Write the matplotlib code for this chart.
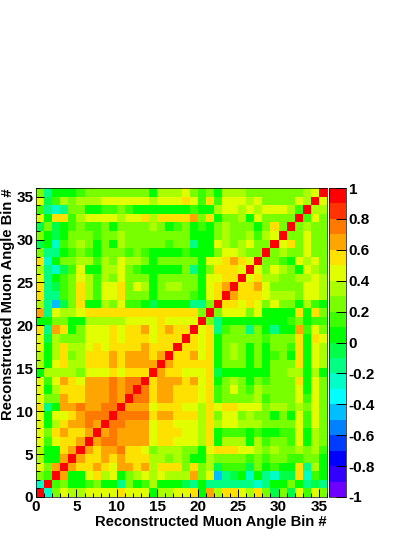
import numpy as np
import matplotlib
matplotlib.use('Agg')
import matplotlib.pyplot as plt
from matplotlib.colors import ListedColormap, BoundaryNorm
from matplotlib.ticker import MultipleLocator

plt.rcParams['font.family'] = ['Liberation Sans', 'DejaVu Sans']
plt.rcParams['font.weight'] = 'bold'
plt.rcParams['axes.unicode_minus'] = False

# correlation x100, from the diagonal to the right, bottom row first
row_01 = [95, -25, 25, 45, 35, 35, 45, 45, 45, 45, 55, 45, 45, 45, 5, 35, 35, 45, 45, 55, 5, 65, 35, 55, 55, 45, 35, 55, 25, -5, 25, -5, 45, 15, 45, 25]
row_02 = [95, 15, 25, 5, 5, 15, 25, 5, 5, -15, 25, 5, 15, 35, 5, 5, 5, -5, -15, 5, -15, -15, -15, -15, -15, -15, -25, -15, 5, 5, 25, 5, -15, -5, -15]
row_03 = [95, 65, 5, 5, 45, 55, 35, 45, 5, 25, 35, 45, 35, 45, 35, 35, 35, 65, 25, 45, -45, -15, -5, 5, -25, 5, -15, -25, -5, -5, 55, -25, 15, 5]
row_04 = [95, 65, 55, 55, 65, 55, 45, 65, 65, 55, 65, 35, 55, 55, 55, 25, 55, 25, 35, -5, 15, 15, 15, -5, 25, 5, 15, 5, 5, 55, -15, 35, 5]
row_05 = [95, 65, 55, 55, 65, 55, 65, 55, 55, 55, 35, 35, 25, 35, 25, 5, 5, 35, 25, 25, 25, 25, 15, 25, 15, 25, 25, 15, 15, 25, 25, 5]
row_06 = [95, 65, 55, 65, 65, 75, 55, 55, 45, 25, 35, 35, 35, 25, 25, 5, 45, 55, 55, 55, 45, 45, 35, 25, 35, 25, 25, 35, 25, 35, 15]
row_07 = [95, 65, 75, 75, 65, 65, 65, 65, 45, 55, 55, 45, 45, 45, 35, 55, 5, 35, 35, 35, 5, 35, 15, 25, 25, 15, 45, 5, 35, 25]
row_08 = [95, 65, 75, 65, 65, 65, 65, 45, 55, 55, 55, 45, 45, 35, 55, 5, 15, 15, 15, 5, 15, 5, 5, 15, 15, 45, 5, 35, 25]
row_09 = [95, 75, 75, 65, 65, 65, 45, 55, 55, 45, 45, 45, 35, 55, 35, 45, 45, 35, 35, 35, 25, 25, 25, 25, 45, 15, 45, 25]
row_10 = [95, 75, 75, 75, 75, 55, 65, 65, 55, 55, 55, 35, 55, 25, 45, 45, 25, 35, 25, 25, 5, 25, 5, 45, 15, 45, 25]
row_11 = [95, 65, 65, 65, 45, 55, 55, 55, 45, 45, 35, 55, 45, 55, 55, 45, 45, 45, 25, 35, 35, 25, 35, 25, 45, 25]
row_12 = [95, 75, 75, 55, 65, 65, 55, 55, 55, 45, 55, 15, 25, 25, 25, 25, 35, 15, 25, 25, 25, 45, 15, 45, 25]
row_13 = [95, 75, 55, 65, 65, 55, 55, 55, 45, 55, 15, 25, 45, 25, 15, 35, 25, 25, 25, 25, 45, 5, 45, 25]
row_14 = [95, 55, 65, 65, 65, 55, 65, 45, 55, 5, 25, 35, 25, 5, 25, 15, 25, 25, 25, 55, 5, 45, 25]
row_15 = [95, 65, 55, 55, 45, 45, 45, 55, -5, 5, 5, 5, 5, 5, 5, 25, 25, 35, 35, 5, 35, 5]
row_16 = [95, 65, 55, 55, 55, 55, 55, 5, 25, 25, 25, 5, 25, 5, 25, 25, 25, 55, 5, 45, 35]
row_17 = [95, 55, 55, 65, 45, 55, 5, 25, 35, 25, 5, 25, 5, 15, 25, 5, 55, 5, 45, 35]
row_18 = [95, 55, 55, 45, 55, 5, 25, 35, 25, 5, 25, 5, 25, 25, 15, 55, 5, 45, 35]
row_19 = [95, 55, 45, 55, 5, 25, 25, 25, 25, 25, 15, 25, 25, 25, 55, 5, 55, 45]
row_20 = [95, 45, 55, -15, 15, 25, 25, -15, 25, 5, -15, 5, 5, 65, 15, 45, 25]
row_21 = [95, 25, -15, 5, 5, 5, 5, 5, 5, 5, 5, 15, 25, 5, 15, 15]
row_22 = [95, 25, 45, 45, 45, 25, 45, 5, 5, 5, 5, 55, 5, 55, 25]
row_23 = [95, 55, 55, 45, 55, 45, 25, 45, 25, 25, 5, 35, 15, 5]
row_24 = [95, 65, 55, 55, 55, 45, 35, 35, 35, 25, 45, 45, 35]
row_25 = [95, 55, 55, 65, 45, 25, 25, 25, 25, 45, 45, 35]
row_26 = [95, 45, 55, 35, 35, 25, 25, 35, 35, 45, 35]
row_27 = [95, 45, 25, 45, 35, 25, 5, 45, 35, 25]
row_28 = [95, 25, 25, 15, 5, 45, 35, 45, 25]
row_29 = [95, 25, 35, 25, 25, 45, 25, 25]
row_30 = [95, 45, 55, 25, 45, 25, 25]
row_31 = [95, 25, 25, 45, 25, 25]
row_32 = [95, 25, 35, 25, 25]
row_33 = [95, 15, 45, 25]
row_34 = [95, 35, 35]
row_35 = [95, 45]
row_36 = [95]

rows = [row_01, row_02, row_03, row_04, row_05, row_06, row_07, row_08, row_09,
        row_10, row_11, row_12, row_13, row_14, row_15, row_16, row_17, row_18,
        row_19, row_20, row_21, row_22, row_23, row_24, row_25, row_26, row_27,
        row_28, row_29, row_30, row_31, row_32, row_33, row_34, row_35, row_36]

# root style palette, 20 contours from -1 to 1
palette = ['#6e00ff', '#3200ff', '#0000ff', '#003cff', '#0082ff', '#00beff', '#00ffff',
           '#00ffc8', '#00ff82', '#00ff46', '#00ff00', '#3cff00', '#78ff00', '#aaff00',
           '#e1ff00', '#ffe100', '#ffa500', '#ff7800', '#ff3200', '#ff0000']
levels = np.round(np.arange(-1, 1.01, 0.1), 1)
bar_ticks = np.round(np.arange(-1, 1.01, 0.2), 1) + 0.
xlabel = 'Reconstructed Muon Angle Bin #'
ylabel = 'Reconstructed Muon Angle Bin #'

# the matrix is symmetric so mirror the rows
nbins = len(rows)
corr = np.zeros((nbins, nbins))
for i, r in enumerate(rows):
    corr[i, i:] = r
    corr[i:, i] = r
corr = corr / 100.

W, H = 415., 537.
fig = plt.figure(figsize=(W/100, H/100), dpi=100)
ax = fig.add_axes([36/W, 1-497/H, (327-36)/W, (497-188)/H])
cax = fig.add_axes([329/W, 1-497/H, (346-329)/W, (497-188)/H])

cmap = ListedColormap(palette)
norm = BoundaryNorm(levels, cmap.N)
edges = np.arange(nbins + 1)
mesh = ax.pcolormesh(edges, edges, corr, cmap=cmap, norm=norm)

ax.set_xlim(0, nbins)
ax.set_ylim(0, nbins)
ax.xaxis.set_major_locator(MultipleLocator(5))
ax.xaxis.set_minor_locator(MultipleLocator(1))
ax.yaxis.set_major_locator(MultipleLocator(5))
ax.yaxis.set_minor_locator(MultipleLocator(1))
ax.tick_params(which='major', direction='in', length=6, width=0.7, labelsize=11, pad=2)
ax.tick_params(which='minor', direction='in', length=3, width=0.7)
for s in ax.spines.values():
    s.set_linewidth(0.5)

fig.text(327/W, 1-522/H, xlabel, ha='right', va='center', fontsize=10.6, fontweight='bold')
fig.text(8/W, 1-188/H, ylabel, ha='center', va='top', rotation=90, fontsize=10.6, fontweight='bold')

cb = fig.colorbar(mesh, cax=cax, ticks=bar_ticks, spacing='proportional', drawedges=False)
cb.ax.minorticks_off()
cb.ax.set_yticklabels(['%g' % t for t in bar_ticks])
cb.ax.tick_params(direction='in', length=7, width=0.7, labelsize=11, pad=2, right=True)
cb.outline.set_linewidth(0.5)

fig.savefig('out.png', dpi=100)
